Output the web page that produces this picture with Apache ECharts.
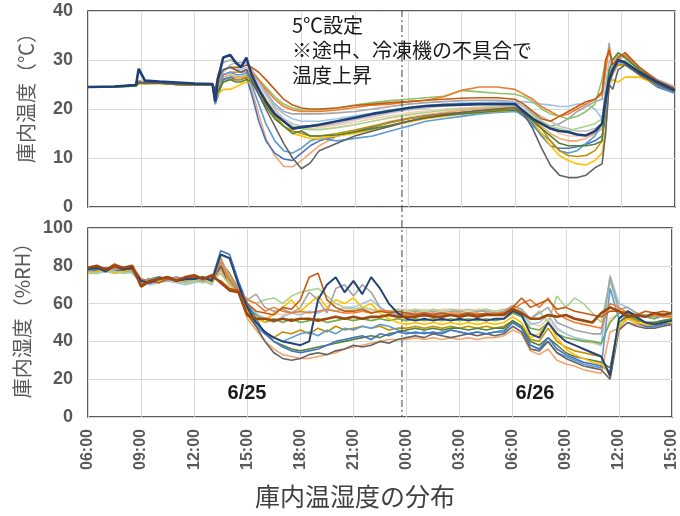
<!DOCTYPE html>
<html><head><meta charset="utf-8">
<script src="https://cdn.jsdelivr.net/npm/echarts@6/dist/echarts.min.js"></script>
<style>html,body{margin:0;padding:0;background:#fff}#c{width:680px;height:516px}</style>
</head><body><div id="c"></div>
<script>
// ---- tick labels ----
const X_TICK_LABELS = ['06:00','09:00','12:00','15:00','18:00','21:00','00:00','03:00','06:00','09:00','12:00','15:00'];
const DIVIDER_HOUR = 23.65; // dashed day divider (hours since 6/25 00:00)

// ---- temperature sample times (hours since 6/25 00:00) ----
const T_HOURS = [6,7.5,8.7,8.85,9.2, 10,11,12,13, 13.15,13.3,13.6,14,14.3,14.6,14.9, 15.2,15.6,16,16.5,17,17.5,18,18.5,19,
  20,21,22,23,24,25,26,27,28,29,30, 30.5,31,31.5,32,32.5,33,33.5,34,34.5,34.9, 35.1,35.3,35.5,35.8,36.2, 37,38,39];

// ---- temperature series (°C) ----
const tempLtGray = [24.5,24.6,24.9,25.8,25.5, 25.5,25.3,25.1,25.1, 23,27,29.5,30,29.5,29.5,29.5, 28,26,23.5,21,19.5,19,19,19,19, 19.2,19.5,20,20.5,21,21.3,21.5,21.7,21.8,21.8,21.5, 20.5,19,17.5,16.5,17,18,19.5,20.5,21.5,22, 28,33.5,27,30,31, 28.5,26,24.5];
const tempSilver = [24.5,24.6,24.8,25.3,25.3, 25.3,25.1,25,25, 22,25,27.5,29,29.5,29,29.5, 28,26,23,20,18,17,16.5,16.5,16.5, 17,17.8,18.5,19.2,19.8,20.2,20.6,20.8,21,21.2,21.3, 20.5,19.5,18.5,17.5,16.5,16,15.5,15.5,16,17, 25,30,29,30.5,30.5, 28.5,26,24.5];
const tempPeach = [24.5,24.6,24.8,25.3,25.3, 25.3,25,24.9,25, 22,24,27,27.5,27.5,27.5,28, 27,25,22,19.5,17.5,16.5,16,16,16.2, 16.7,17.3,18,18.6,19.2,19.6,20,20.2,20.4,20.5,20.6, 19.8,18.5,17,16,15,14.5,14.5,14.5,15,16, 22,28,28.5,29.5,29.5, 27.5,25.2,23.8];
const tempPaleBlue = [24.5,24.6,24.8,25.3,25.3, 25.3,25,24.9,25, 22,25,28,28.5,28,28,28.5, 27.5,25.5,23,20.5,19,18,17.5,17.5,17.5, 18,18.6,19.2,19.8,20.3,20.7,21,21.2,21.3,21.4,21.5, 21.5,21.3,21,20.8,20.5,20.5,21,21,20,18, 24,28,28.5,29,29.5, 27.5,25,23.5];
const tempOlive = [24.5,24.5,24.7,25.2,25.2, 25.2,25,24.9,24.9, 22.5,24,26,26.5,26.5,26.5,27, 26,24,21.5,19,17.5,16.5,16,15.8,15.8, 16.2,16.8,17.5,18.2,18.8,19.3,19.7,20,20.2,20.4,20.5, 19.8,18.5,17.5,16.5,16,15.5,16,16.5,17,18, 22,27,28.5,29.5,30, 27.5,25.3,23.8];
const tempLtGreen = [24.5,24.5,24.7,25.5,25.2, 25.3,25.1,24.9,24.9, 22,24,26,26.5,26.5,26.5,27, 27,26,24.5,22.5,21,20.2,19.8,19.8,19.8, 20.2,20.8,21.3,21.7,22,22.3,22.6,23.8,23.5,23.2,23, 22.5,21.5,20,19,18.5,18,18.5,19.5,21,26, 30,31.5,30,31,30.5, 28,25.5,24];
const tempOrange = [24.5,24.6,24.8,25.3,25.3, 25.3,25.1,25,25, 22,25,27,27.5,27.5,27.5,28, 27.5,26,24,22,20.5,19.8,19.5,19.5,19.5, 19.8,20.3,20.8,21,21.5,21.8,22.5,23.8,24.5,24.5,24, 23,22,20.5,19.5,18.5,19,20,21,22,23, 28,32.5,29,30.5,31, 28.5,25.5,24];
const tempLowPeach = [24.5,24.6,24.8,25.3,25.3, 25.3,25,24.9,25, 21.5,23,26.5,27,26.5,26.5,27, 24,19,14,10.5,8.3,8.2,9.5,11,12.5, 14.5,15.5,16.5,17.5,18.2,18.8,19.3,19.7,20,20.2,20.3, 19.5,18,16.5,15,14,13.5,13.5,14,15,16, 20,25,27,29,29.5, 27,25,23.5];
const tempBlue = [24.5,24.6,24.8,25.3,25.3, 25.3,25,24.9,25, 21,22.5,26,26.5,26,26,26.5, 23,17.5,13.5,11,9.8,9.5,11,12.5,13.5, 14.5,15.3,16.3,17.3,18,18.6,19,19.3,19.6,19.8,19.8, 18.5,17,14.5,12.5,12,12,12.3,12.8,13.5,14.5, 18,25,27.5,29.5,29.5, 27,24.5,23.2];
const tempLtBlue = [24.5,24.6,24.9,25.4,25.3, 25.3,25,24.9,25, 21,23,27,27.5,27,27,27.5, 25,21,17,13.5,11.5,11,12,13.5,14, 13.5,14,14.5,15.5,16.5,17.5,18,18.5,19,19.3,19.5, 19,16.5,15,13.5,11.5,11,11.5,13,14.5,17, 20,27,28.5,29.5,29.5, 27,24.8,23.2];
const tempGold = [24.5,24.5,24.8,25.2,25.2, 25.2,25,24.9,24.9, 22,23,24,24,24.5,25,25.5, 25.5,24,22,19,16.5,15,14.5,14,14, 14.5,15,15.7,16.5,17.3,18,18.5,19,19.3,19.5,19.8, 19,17.5,15,12.5,10.5,9.5,8.8,8.6,9.5,11, 16,25,26,25.5,26.5, 26.5,25,24.2];
const tempDkGold = [24.5,24.6,24.8,25.2,25.2, 25.2,25,24.9,24.9, 22,24,25.5,26,26,26,26.5, 26,24,21,18.5,16.5,15.5,15,14.5,14.5, 15,15.7,16.5,17.2,18,18.5,19,19.3,19.6,19.8,20, 19.5,18,16,13.5,11.5,10.5,10.3,10.5,11.5,13.5, 22,27,28,29,29, 27,25,23.7];
const tempDkGreen = [24.5,24.5,24.7,25.3,25.2, 25.3,25,24.9,24.9, 22,23.5,25.5,26,25.5,25.5,26, 25.5,23,20.5,18,16.5,15,15.5,14.5,14.5, 14.7,15.3,16,16.7,17.5,18.2,18.7,19,19.3,19.6,19.8, 19,17.5,16,14.5,13,12.5,12.5,12.5,12.8,13.5, 22,28,30,31.5,30.5, 28,25.5,23.8];
const tempBrown = [24.5,24.6,24.9,25.4,25.3, 25.3,25.1,25,25, 23,26,28,28.5,28.5,28.5,29, 28.5,27.5,26,24,22,20.8,20.2,20,20, 20.2,20.7,21,21.3,21.5,21.8,22,22.2,22.3,22.3,22, 21,19.5,18,17.5,18.5,19.5,20.5,21.5,22,23.5, 30,32,29,30.5,31.5, 28.5,25.8,24.2];
const tempDkGray = [24.5,24.6,24.9,25.5,25.3, 25.3,25.1,25,25, 24,26.5,28,28.5,28,27.5,28, 26,23,20,16.5,13,10,7.8,9,11.5, 13,14.5,15.5,16.5,17.5,18.2,18.8,19.3,19.7,20,20.3, 19,16,12,8.5,6.5,6,6,6.5,8,8.8, 15,25,24,28,29, 27,25,23.5];
const tempNavy = [24.5,24.6,24.9,28.2,25.8, 25.6,25.4,25.2,25.1, 21.5,26,30.5,31,29.5,28.5,30.5, 27,24,21.5,19,17.5,16,16.3,16.5,16.8, 17.5,18.2,19,19.6,20.2,20.6,20.8,20.9,21,21,21, 19.5,18,17,16,15.5,15.3,14.8,14.6,15.5,17, 22,26,28,30,29.5, 27.5,25.5,23.8];

// ---- humidity sample times ----
const H_HOURS = [6,6.5,7,7.5,8,8.5, 9,9.5,10,10.5,11,11.5, 12,12.5,13,13.5,14,14.5, 15,15.5,16,16.5,17,17.5, 18,18.5,19,19.5,20,20.5,
  21,21.5,22,22.5,23,23.5, 24,24.5,25,25.5,26,26.5, 27,27.5,28,28.5,29,29.5, 30,30.5,31,31.5,32,32.5, 33,33.5,34,34.5,35,35.5, 36,36.5,37,37.5,38,38.5, 39];

// ---- humidity series (%RH) ----
const humPeach = [77,78,77,78,77,78, 72,72,73,72,73,72, 73,72,73,76,70,66, 58,54,52,55,54,56, 55,56,55,57,56,57, 56,57,56,57,56,57, 57,56,57,56,57,57, 57,56,57,57,56,57, 58,56,50,48,52,46, 44,42,40,39,38,52, 55,54,53,53,52,54, 53];
const humPaleBlue = [76,76,77,76,77,76, 71,70,71,72,71,70, 71,72,70,80,71,68, 60,55,52,50,53,55, 54,56,55,57,56,58, 58,60,62,58,55,54, 53,54,53,54,53,54, 53,54,53,54,54,55, 57,55,49,50,54,47, 44,42,41,40,38,75, 60,58,55,53,52,53, 53];
const humGreen = [77,78,79,77,78,79, 72,73,72,74,73,72, 73,74,72,79,73,68, 58,54,50,52,50,52, 50,51,52,50,51,52, 51,52,51,52,51,52, 51,52,51,52,51,52, 51,52,51,52,51,52, 55,53,47,46,50,44, 42,41,40,40,39,50, 55,56,54,53,52,54, 54];
const humDkGold = [77,78,77,78,77,78, 72,71,72,73,72,71, 72,73,72,82,76,68, 54,48,44,42,45,44, 46,44,47,45,48,46, 47,48,47,48,46,47, 47,48,47,48,47,48, 47,48,47,48,47,48, 51,48,41,40,47,40, 37,35,34,33,32,21, 50,53,51,50,50,51, 51];
const humLtBlue = [77,78,77,78,77,78, 72,73,72,73,72,73, 73,72,73,80,72,67, 56,48,44,42,40,42, 44,45,43,46,44,47, 46,48,47,49,48,46, 45,44,45,44,45,46, 45,44,45,44,45,46, 50,47,38,36,40,34, 32,30,28,27,26,68, 52,55,52,50,50,51, 51];
const humDkGreen = [78,77,78,77,78,77, 72,73,74,73,72,73, 74,73,72,78,70,66, 55,50,45,40,38,36, 35,36,37,38,39,40, 41,42,43,42,44,45, 46,47,46,47,46,47, 47,46,47,46,47,47, 51,48,40,38,42,38, 34,32,31,30,29,26, 50,54,52,50,50,51, 52];
const humLowPeach = [77,78,77,78,76,77, 71,72,73,72,73,72, 72,73,71,78,70,66, 52,46,40,36,33,32, 31,31,32,33,34,36, 37,38,39,40,41,41, 41,42,41,42,41,42, 41,42,41,42,42,43, 46,44,35,33,36,30, 28,27,25,24,23,45, 47,50,49,48,48,49, 50];
const humDkGray = [78,77,78,79,77,78, 72,73,72,74,73,72, 74,73,72,80,70,67, 55,48,40,34,31,30, 31,33,34,33,35,36, 38,37,38,40,39,41, 42,43,42,44,43,42, 43,44,43,44,43,44, 48,45,36,35,40,34, 31,29,27,26,25,20, 46,50,48,47,47,48, 49];
const humBlue = [77,78,79,77,78,78, 73,72,74,73,74,73, 74,73,73,88,86,72, 60,52,44,40,37,35, 34,35,36,38,40,41, 42,43,41,44,43,45, 44,45,44,45,44,46, 45,44,45,44,45,45, 50,47,38,36,42,36, 33,31,29,28,27,24, 48,52,50,48,48,49, 50];
const humGold = [76,77,78,76,77,78, 72,71,72,73,72,71, 72,73,71,85,70,66, 56,52,50,55,58,62, 56,60,64,58,62,60, 63,58,60,55,52,50, 49,50,49,50,49,50, 49,50,49,50,49,50, 53,50,42,44,50,42, 36,33,31,29,28,23, 48,52,50,49,49,50, 50];
const humLtGreen = [77,76,78,77,76,77, 71,72,71,73,72,71, 72,71,72,76,70,66, 62,60,62,63,60,64, 66,67,68,64,60,58, 57,58,57,56,56,57, 56,57,56,57,56,57, 56,57,56,57,56,57, 56,57,52,56,50,64, 58,63,60,55,50,72, 56,55,54,54,53,55, 54];
const humGray = [77,79,78,78,79,77, 71,73,73,72,74,72, 73,72,74,84,74,68, 62,65,58,56,57,55, 58,66,62,55,68,70, 64,70,66,58,55,54, 55,56,55,56,55,56, 56,55,56,56,55,56, 59,57,52,55,58,50, 48,46,45,44,44,74, 57,58,55,54,53,54, 54];
const humOrange = [78,79,78,79,78,80, 73,72,73,74,73,74, 73,74,72,82,72,67, 62,60,56,58,56,55, 56,55,56,57,56,55, 55,56,55,56,56,55, 54,55,54,55,54,55, 55,54,55,54,55,55, 57,60,62,58,63,55, 52,50,49,48,47,60, 58,55,54,53,54,53, 53];
const humDkBrown = [79,80,78,81,79,78, 70,72,71,73,72,73, 74,73,74,72,68,67, 60,56,55,54,58,57, 62,74,76,62,58,56, 56,57,55,56,55,56, 55,54,55,54,55,54, 54,55,54,55,54,55, 58,63,58,60,62,57, 58,56,55,54,53,56, 56,55,54,56,55,56, 55];
const humNavy = [78,79,77,80,78,79, 72,71,73,74,72,73, 73,74,72,86,84,70, 58,50,45,42,40,39, 38,40,62,70,74,66, 72,65,74,68,60,55, 52,51,52,51,52,51, 52,51,52,51,52,52, 56,54,44,42,50,44, 40,38,36,34,32,22, 52,56,53,50,49,50, 51];
const humBrownThick = [79,80,78,80,79,80, 69,72,73,74,72,74, 75,73,75,71,67,66, 54,52,52,51,52,51, 52,52,51,52,53,52, 53,52,53,53,54,53, 53,53,54,53,53,54, 53,54,53,54,54,54, 57,55,52,52,54,53, 54,52,51,50,55,58, 56,53,54,53,55,54, 55];

const TEMP_SERIES = [
  ['tempLtGray', tempLtGray, '#A5A5A5', 1.6],
  ['tempSilver', tempSilver, '#BFBFBF', 1.6],
  ['tempPeach', tempPeach, '#F8CBAD', 1.6],
  ['tempPaleBlue', tempPaleBlue, '#9DC3E6', 1.6],
  ['tempOlive', tempOlive, '#A9D18E', 1.6],
  ['tempLtGreen', tempLtGreen, '#8FC26A', 1.6],
  ['tempOrange', tempOrange, '#ED7D31', 1.6],
  ['tempLowPeach', tempLowPeach, '#F4A56E', 1.6],
  ['tempBlue', tempBlue, '#4472C4', 1.6],
  ['tempLtBlue', tempLtBlue, '#5B9BD5', 1.6],
  ['tempGold', tempGold, '#FFC000', 1.6],
  ['tempDkGold', tempDkGold, '#BF9000', 1.6],
  ['tempDkGreen', tempDkGreen, '#548235', 1.6],
  ['tempBrown', tempBrown, '#C55A11', 1.6],
  ['tempDkGray', tempDkGray, '#636363', 1.6],
  ['tempNavy', tempNavy, '#1F3F77', 2.6]
];
const HUM_SERIES = [
  ['humPeach', humPeach, '#F8CBAD', 1.6],
  ['humPaleBlue', humPaleBlue, '#9DC3E6', 1.6],
  ['humGreen', humGreen, '#70AD47', 1.6],
  ['humDkGold', humDkGold, '#BF9000', 1.6],
  ['humLtBlue', humLtBlue, '#5B9BD5', 1.6],
  ['humDkGreen', humDkGreen, '#548235', 1.6],
  ['humLowPeach', humLowPeach, '#F4A56E', 1.6],
  ['humDkGray', humDkGray, '#636363', 1.6],
  ['humBlue', humBlue, '#4472C4', 1.6],
  ['humGold', humGold, '#FFC000', 1.6],
  ['humLtGreen', humLtGreen, '#A9D18E', 1.6],
  ['humGray', humGray, '#A5A5A5', 1.6],
  ['humOrange', humOrange, '#ED7D31', 1.6],
  ['humDkBrown', humDkBrown, '#C55A11', 1.6],
  ['humNavy', humNavy, '#264478', 2.0],
  ['humBrownThick', humBrownThick, '#9E480E', 2.6]
];

const NUM_FONT = '"Liberation Sans", Arial, sans-serif';
const JP_FONT = '"Noto Sans CJK JP", sans-serif';

function mkSeries(def, hours, idx) {
  return {
    name: def[0], type: 'line', xAxisIndex: idx, yAxisIndex: idx,
    data: def[1].map((v, i) => [hours[i], v]),
    showSymbol: false, symbol: 'none', smooth: false,
    lineStyle: { color: def[2], width: def[3] },
    itemStyle: { color: def[2] },
    silent: true, animation: false
  };
}

function xAxis(idx, showLabels) {
  return {
    type: 'value', gridIndex: idx, min: 6, max: 39, interval: 3,
    axisLine: { show: false }, axisTick: { show: false },
    splitLine: { show: true, lineStyle: { color: '#D9D9D9', width: 1 } },
    axisLabel: {
      show: showLabels, rotate: 90, margin: 12,
      fontSize: 16, fontWeight: 'bold', color: '#595959', fontFamily: NUM_FONT,
      formatter: v => X_TICK_LABELS[Math.round((v - 6) / 3)]
    }
  };
}
function yAxis(idx, max, interval, name, shiftUp) {
  return {
    type: 'value', gridIndex: idx, min: 0, max: max, interval: interval,
    name: name, nameLocation: 'middle', nameRotate: 90, nameGap: 52,
    nameTextStyle: { fontSize: 20, color: '#595959', fontFamily: JP_FONT, padding: [0, 0, 0, shiftUp * 2] },
    axisLine: { show: false }, axisTick: { show: false },
    splitLine: { show: true, lineStyle: { color: '#D9D9D9', width: 1 } },
    axisLabel: { margin: 15, fontSize: 18, fontWeight: 'bold', color: '#595959', fontFamily: NUM_FONT }
  };
}

const chart = echarts.init(document.getElementById('c'), null, { renderer: 'canvas' });
chart.setOption({
  animation: false,
  backgroundColor: '#fff',
  grid: [
    { left: 88, right: 5, top: 11, height: 196, show: true, borderColor: '#262626', borderWidth: 1.5, backgroundColor: 'transparent' },
    { left: 88, right: 5, top: 228, height: 189, show: true, borderColor: '#262626', borderWidth: 1.5, backgroundColor: 'transparent' }
  ],
  xAxis: [xAxis(0, false), xAxis(1, true)],
  yAxis: [yAxis(0, 40, 10, '庫内温度（℃）', 16), yAxis(1, 100, 20, '庫内湿度（%RH）', 7)],
  series: TEMP_SERIES.map(d => mkSeries(d, T_HOURS, 0)).concat(HUM_SERIES.map(d => mkSeries(d, H_HOURS, 1)))
});

const dx = chart.convertToPixel({ xAxisIndex: 0 }, DIVIDER_HOUR);
const yTop = chart.convertToPixel({ yAxisIndex: 0 }, 40) - 1;
const yBot = chart.convertToPixel({ yAxisIndex: 1 }, 0);

chart.setOption({
  graphic: [
    { type: 'line', silent: true, z: 100,
      shape: { x1: dx, y1: yTop, x2: dx, y2: yBot },
      style: { stroke: '#404040', lineWidth: 1, lineDash: [7, 3, 2, 3] } },
    { type: 'text', x: 292, y: 13, silent: true, z: 100,
      style: { text: '5℃設定\n※途中、冷凍機の不具合で\n温度上昇', fontSize: 20, lineHeight: 25, fill: '#1a1a1a', fontFamily: JP_FONT, align: 'left', verticalAlign: 'top' } },
    { type: 'text', x: 247, y: 393, silent: true, z: 100,
      style: { text: '6/25', fontSize: 20, fontWeight: 'bold', fill: '#1a1a1a', fontFamily: NUM_FONT, align: 'center', verticalAlign: 'middle' } },
    { type: 'text', x: 535, y: 393, silent: true, z: 100,
      style: { text: '6/26', fontSize: 20, fontWeight: 'bold', fill: '#1a1a1a', fontFamily: NUM_FONT, align: 'center', verticalAlign: 'middle' } },
    { type: 'text', x: 355, y: 496, silent: true,
      style: { text: '庫内温湿度の分布', fontSize: 25, fill: '#404040', fontFamily: JP_FONT, align: 'center', verticalAlign: 'middle' } }
  ]
});
</script>
</body></html>
